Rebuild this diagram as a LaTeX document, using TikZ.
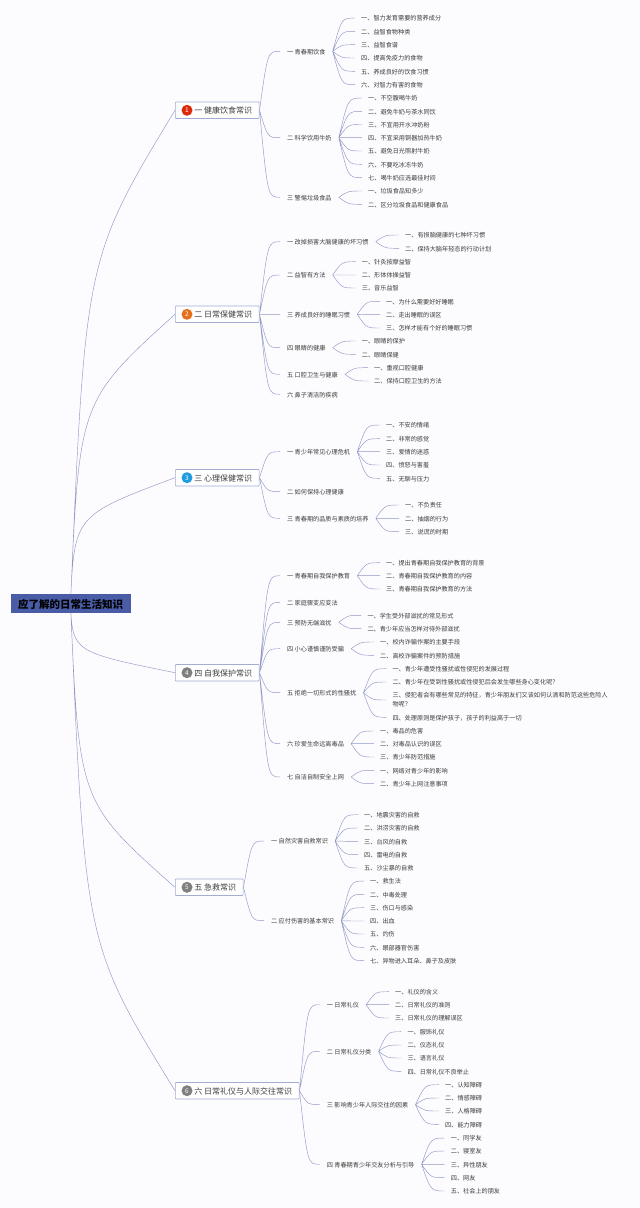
\documentclass[tikz,border=0pt]{standalone}
\usepackage{fontspec}
\setmainfont{Noto Sans CJK SC}
\usetikzlibrary{backgrounds,calc}
\usepackage{xcolor}
\definecolor{paper}{HTML}{FCFCFE}
\definecolor{rootblue}{HTML}{4A5CA6}
\definecolor{frameblue}{HTML}{A3ACD3}
\definecolor{wireblue}{HTML}{9298C6}
\definecolor{inkgray}{HTML}{3C3C3C}
\definecolor{badgered}{HTML}{DB2A0C}
\definecolor{badgeorange}{HTML}{E56F1A}
\definecolor{badgeblue}{HTML}{1F9BDF}
\definecolor{badgegray}{HTML}{7F7F7F}

\tikzset{
  rootbox/.style={fill=rootblue,text=black,inner xsep=7.5pt,minimum height=19pt,text height=11pt,text depth=1.6pt,font=\fontsize{10.5}{12}\selectfont\bfseries},
  branchbox/.style={draw=frameblue,line width=0.7pt,fill=white,rounded corners=0.8pt,text=inkgray,anchor=west,inner xsep=7pt,inner ysep=0pt,minimum height=16.5pt,text height=8pt,text depth=1pt,font=\fontsize{8}{10}\selectfont},
  badge/.style={circle,inner sep=0pt,minimum size=11pt,text=white,font=\fontsize{6.5}{7}\selectfont},
  topic/.style={text=inkgray,anchor=west,inner xsep=7pt,inner ysep=1pt,text height=6.3pt,text depth=0.72pt,font=\fontsize{6.15}{8}\selectfont},
  longleaf/.style={text=inkgray,anchor=west,inner xsep=6pt,inner ysep=1pt,align=left,font=\fontsize{6.15}{9}\selectfont},
  leaf/.style={longleaf,text height=6.3pt,text depth=0.72pt},
  bow/.style={wireblue,line width=0.45pt,to path={let \p1=(\tikztostart),\p2=(\tikztotarget) in .. controls ({\x1+0.4*(\x2-\x1)},\y2) .. (\tikztotarget)}},
  longbow/.style={wireblue,line width=0.45pt,to path={let \p1=(\tikztostart),\p2=(\tikztotarget) in .. controls ({\x1+0.03*abs(\y2-\y1)},{\y1+0.7*(\y2-\y1)}) .. (\tikztotarget)}}
}

\begin{document}
\begin{tikzpicture}[x=1pt,y=-1pt]
  \useasboundingbox (0,0) rectangle (640,1208);
  \begin{scope}[on background layer]
    \fill[paper] (0,0) rectangle (640,1208);
  \end{scope}

  % centre
  \node[rootbox] (root) at (70.5,603.5) {应了解的日常生活知识};

  % the six branches
  \node[branchbox] (one) at (175,110.3) {\hspace{12pt}一 健康饮食常识};
  \node[badge,fill=badgered] (num1) at (187,110.3) {1};
  \node[branchbox] (two) at (175,314.3) {\hspace{12pt}二 日常保健常识};
  \node[badge,fill=badgeorange] (num2) at (187,314.3) {2};
  \node[branchbox] (three) at (175,477.7) {\hspace{12pt}三 心理保健常识};
  \node[badge,fill=badgeblue] (num3) at (187,477.7) {3};
  \node[branchbox] (four) at (175,672.7) {\hspace{12pt}四 自我保护常识};
  \node[badge,fill=badgegray] (num4) at (187,672.7) {4};
  \node[branchbox] (five) at (175,887.3) {\hspace{12pt}五 急救常识};
  \node[badge,fill=badgegray] (num5) at (187,887.3) {5};
  \node[branchbox] (six) at (175,1090.7) {\hspace{12pt}六 日常礼仪与人际交往常识};
  \node[badge,fill=badgegray] (num6) at (187,1090.7) {6};

  \begin{scope}[on background layer]
    \draw[longbow] (root.center) to (one.west) (root.center) to (two.west) (root.center) to (three.west)
      (root.center) to (four.west) (root.center) to (five.west) (root.center) to (six.west);
  \end{scope}

  % branch one
  \node[topic] (a1) at (280,51.3) {一 青春期饮食};
  \node[leaf] (a1a) at (355,18) {一、智力发育需要的营养成分};
  \node[leaf] (a1b) at (355,31.3) {二、益智食物种类};
  \node[leaf] (a1c) at (355,44.7) {三、益智食谱};
  \node[leaf] (a1d) at (355,58) {四、提高免疫力的食物};
  \node[leaf] (a1e) at (355,71.3) {五、养成良好的饮食习惯};
  \node[leaf] (a1f) at (355,84.7) {六、对智力有害的食物};
  \node[topic] (a2) at (280,137.7) {二 科学饮用牛奶};
  \node[leaf] (a2a) at (362,98) {一、不空腹喝牛奶};
  \node[leaf] (a2b) at (362,111.3) {二、避免牛奶与茶水同饮};
  \node[leaf] (a2c) at (362,124.5) {三、不宜用开水冲奶粉};
  \node[leaf] (a2d) at (362,137.7) {四、不宜采用铜器加热牛奶};
  \node[leaf] (a2e) at (362,151) {五、避免日光照射牛奶};
  \node[leaf] (a2f) at (362,164.3) {六、不要吃冰冻牛奶};
  \node[leaf] (a2g) at (362,177.7) {七、喝牛奶应选最佳时间};
  \node[topic] (a3) at (280,197.3) {三 警惕垃圾食品};
  \node[leaf] (a3a) at (362,191) {一、垃圾食品知多少};
  \node[leaf] (a3b) at (362,204.3) {二、区分垃圾食品和健康食品};
  \draw[bow] (one.east) to (a1.west) (one.east) to (a2.west) (one.east) to (a3.west);
  \draw[bow] (a1.east) to (a1a.west) (a1.east) to (a1b.west) (a1.east) to (a1c.west)
    (a1.east) to (a1d.west) (a1.east) to (a1e.west) (a1.east) to (a1f.west);
  \draw[bow] (a2.east) to (a2a.west) (a2.east) to (a2b.west) (a2.east) to (a2c.west) (a2.east) to (a2d.west)
    (a2.east) to (a2e.west) (a2.east) to (a2f.west) (a2.east) to (a2g.west);
  \draw[bow] (a3.east) to (a3a.west) (a3.east) to (a3b.west);

  % branch two
  \node[topic] (b1) at (280,241.7) {一 改掉损害大脑健康的坏习惯};
  \node[leaf] (b1a) at (399,235) {一、有损脑健康的七种坏习惯};
  \node[leaf] (b1b) at (399,248.3) {二、保持大脑年轻态的行动计划};
  \node[topic] (b2) at (280,275) {二 益智有方法};
  \node[leaf] (b2a) at (355.7,261.7) {一、针灸按摩益智};
  \node[leaf] (b2b) at (355.7,275) {二、形体体操益智};
  \node[leaf] (b2c) at (355.7,288) {三、音乐益智};
  \node[topic] (b3) at (280,314.3) {三 养成良好的睡眠习惯};
  \node[leaf] (b3a) at (380,301.3) {一、为什么需要好好睡眠};
  \node[leaf] (b3b) at (380,314.7) {二、走出睡眠的误区};
  \node[leaf] (b3c) at (380,328) {三、怎样才能有个好的睡眠习惯};
  \node[topic] (b4) at (280,347.7) {四 眼睛的健康};
  \node[leaf] (b4a) at (355.7,341) {一、眼睛的保护};
  \node[leaf] (b4b) at (355.7,354.3) {二、眼睛保健};
  \node[topic] (b5) at (280,374.3) {五 口腔卫生与健康};
  \node[leaf] (b5a) at (368,367.7) {一、重视口腔健康};
  \node[leaf] (b5b) at (368,381) {二、保持口腔卫生的方法};
  \node[topic] (b6) at (280,394.3) {六 鼻子清洁防疾病};
  \draw[bow] (two.east) to (b1.west) (two.east) to (b2.west) (two.east) to (b3.west)
    (two.east) to (b4.west) (two.east) to (b5.west) (two.east) to (b6.west);
  \draw[bow] (b1.east) to (b1a.west) (b1.east) to (b1b.west);
  \draw[bow] (b2.east) to (b2a.west) (b2.east) to (b2b.west) (b2.east) to (b2c.west);
  \draw[bow] (b3.east) to (b3a.west) (b3.east) to (b3b.west) (b3.east) to (b3c.west);
  \draw[bow] (b4.east) to (b4a.west) (b4.east) to (b4b.west);
  \draw[bow] (b5.east) to (b5a.west) (b5.east) to (b5b.west);

  % branch three
  \node[topic] (c1) at (280,451.7) {一 青少年常见心理危机};
  \node[leaf] (c1a) at (380,425) {一、不安的情绪};
  \node[leaf] (c1b) at (380,438.7) {二、非常的感觉};
  \node[leaf] (c1c) at (380,451.7) {三、爱情的迷惑};
  \node[leaf] (c1d) at (380,465) {四、愤怒与害羞};
  \node[leaf] (c1e) at (380,478.3) {五、无聊与压力};
  \node[topic] (c2) at (280,491.7) {二 如何保持心理健康};
  \node[topic] (c3) at (280,518.3) {三 青春期的品质与素质的培养};
  \node[leaf] (c3a) at (399,505) {一、不负责任};
  \node[leaf] (c3b) at (399,518.3) {二、抽烟的行为};
  \node[leaf] (c3c) at (399,531.7) {三、说谎的时期};
  \draw[bow] (three.east) to (c1.west) (three.east) to (c2.west) (three.east) to (c3.west);
  \draw[bow] (c1.east) to (c1a.west) (c1.east) to (c1b.west) (c1.east) to (c1c.west)
    (c1.east) to (c1d.west) (c1.east) to (c1e.west);
  \draw[bow] (c3.east) to (c3a.west) (c3.east) to (c3b.west) (c3.east) to (c3c.west);

  % branch four
  \node[topic] (d1) at (280,575.7) {一 青春期自我保护教育};
  \node[leaf] (d1a) at (380,562.7) {一、提出青春期自我保护教育的背景};
  \node[leaf] (d1b) at (380,575.7) {二、青春期自我保护教育的内容};
  \node[leaf] (d1c) at (380,589) {三、青春期自我保护教育的方法};
  \node[topic] (d2) at (280,602.3) {二 家庭骤变应变法};
  \node[topic] (d3) at (280,622.3) {三 预防无端滋扰};
  \node[leaf] (d3a) at (361.3,615.3) {一、学生受外部滋扰的常见形式};
  \node[leaf] (d3b) at (361.3,628.7) {二、青少年应当怎样对待外部滋扰};
  \node[topic] (d4) at (280,648.7) {四 小心谨慎谨防受骗};
  \node[leaf] (d4a) at (374,642) {一、校内诈骗作案的主要手段};
  \node[leaf] (d4b) at (374,655.3) {二、高校诈骗案件的预防措施};
  \node[topic] (d5) at (280,692.7) {五 拒绝一切形式的性骚扰};
  \node[leaf] (d5a) at (386.3,668.7) {一、青少年遭受性骚扰或性侵犯的发展过程};
  \node[leaf] (d5b) at (386.3,682) {二、青少年在受到性骚扰或性侵犯后会发生哪些身心变化呢？};
  \node[longleaf] (d5c) at (386.3,700) {三、侵犯者会有哪些常见的特征，青少年朋友们又该如何认清和防范这些危险人\\物呢？};
  \node[leaf] (d5d) at (386.3,717.3) {四、处理原则是保护孩子，孩子的利益高于一切};
  \node[topic] (d6) at (280,743.7) {六 珍爱生命远离毒品};
  \node[leaf] (d6a) at (374,731) {一、毒品的危害};
  \node[leaf] (d6b) at (374,743.7) {二、对毒品认识的误区};
  \node[leaf] (d6c) at (374,757) {三、青少年防范措施};
  \node[topic] (d7) at (280,777) {七 自洁自制安全上网};
  \node[leaf] (d7a) at (374,770.3) {一、网络对青少年的影响};
  \node[leaf] (d7b) at (374,783.7) {二、青少年上网注意事项};
  \draw[bow] (four.east) to (d1.west) (four.east) to (d2.west) (four.east) to (d3.west) (four.east) to (d4.west)
    (four.east) to (d5.west) (four.east) to (d6.west) (four.east) to (d7.west);
  \draw[bow] (d1.east) to (d1a.west) (d1.east) to (d1b.west) (d1.east) to (d1c.west);
  \draw[bow] (d3.east) to (d3a.west) (d3.east) to (d3b.west);
  \draw[bow] (d4.east) to (d4a.west) (d4.east) to (d4b.west);
  \draw[bow] (d5.east) to (d5a.west) (d5.east) to (d5b.west) (d5.east) to (d5c.west) (d5.east) to (d5d.west);
  \draw[bow] (d6.east) to (d6a.west) (d6.east) to (d6b.west) (d6.east) to (d6c.west);
  \draw[bow] (d7.east) to (d7a.west) (d7.east) to (d7b.west);

  % branch five
  \node[topic] (e1) at (264,841) {一 自然灾害自救常识};
  \node[leaf] (e1a) at (358,814.7) {一、地震灾害的自救};
  \node[leaf] (e1b) at (358,828) {二、洪涝灾害的自救};
  \node[leaf] (e1c) at (358,841.3) {三、台风的自救};
  \node[leaf] (e1d) at (358,854.7) {四、雷电的自救};
  \node[leaf] (e1e) at (358,868) {五、沙尘暴的自救};
  \node[topic] (e2) at (264,920.7) {二 应付伤害的基本常识};
  \node[leaf] (e2a) at (364,881) {一、救生法};
  \node[leaf] (e2b) at (364,894.3) {二、中毒处理};
  \node[leaf] (e2c) at (364,907.7) {三、伤口与感染};
  \node[leaf] (e2d) at (364,921) {四、出血};
  \node[leaf] (e2e) at (364,934) {五、灼伤};
  \node[leaf] (e2f) at (364,947.3) {六、眼部器官伤害};
  \node[leaf] (e2g) at (364,960.7) {七、异物进入耳朵、鼻子及皮肤};
  \draw[bow] (five.east) to (e1.west) (five.east) to (e2.west);
  \draw[bow] (e1.east) to (e1a.west) (e1.east) to (e1b.west) (e1.east) to (e1c.west)
    (e1.east) to (e1d.west) (e1.east) to (e1e.west);
  \draw[bow] (e2.east) to (e2a.west) (e2.east) to (e2b.west) (e2.east) to (e2c.west) (e2.east) to (e2d.west)
    (e2.east) to (e2e.west) (e2.east) to (e2f.west) (e2.east) to (e2g.west);

  % branch six
  \node[topic] (f1) at (319.7,1004.7) {一 日常礼仪};
  \node[leaf] (f1a) at (389,991.7) {一、礼仪的含义};
  \node[leaf] (f1b) at (389,1004.7) {二、日常礼仪的准则};
  \node[leaf] (f1c) at (389,1018) {三、日常礼仪的理解误区};
  \node[topic] (f2) at (319.7,1051.3) {二 日常礼仪分类};
  \node[leaf] (f2a) at (401.3,1031.7) {一、服饰礼仪};
  \node[leaf] (f2b) at (401.3,1045) {二、仪态礼仪};
  \node[leaf] (f2c) at (401.3,1058) {三、语言礼仪};
  \node[leaf] (f2d) at (401.3,1071.3) {四、日常礼仪不良举止};
  \node[topic] (f3) at (319.7,1104.7) {三 影响青少年人际交往的因素};
  \node[leaf] (f3a) at (439,1084.7) {一、认知障碍};
  \node[leaf] (f3b) at (439,1098) {二、情感障碍};
  \node[leaf] (f3c) at (439,1111) {三、人格障碍};
  \node[leaf] (f3d) at (439,1124.3) {四、能力障碍};
  \node[topic] (f4) at (319.7,1164.3) {四 青春期青少年交友分析与引导};
  \node[leaf] (f4a) at (444.7,1138) {一、同学友};
  \node[leaf] (f4b) at (444.7,1151) {二、寝室友};
  \node[leaf] (f4c) at (444.7,1164.3) {三、异性朋友};
  \node[leaf] (f4d) at (444.7,1177.7) {四、网友};
  \node[leaf] (f4e) at (444.7,1191) {五、社会上的朋友};
  \draw[bow] (six.east) to (f1.west) (six.east) to (f2.west) (six.east) to (f3.west) (six.east) to (f4.west);
  \draw[bow] (f1.east) to (f1a.west) (f1.east) to (f1b.west) (f1.east) to (f1c.west);
  \draw[bow] (f2.east) to (f2a.west) (f2.east) to (f2b.west) (f2.east) to (f2c.west) (f2.east) to (f2d.west);
  \draw[bow] (f3.east) to (f3a.west) (f3.east) to (f3b.west) (f3.east) to (f3c.west) (f3.east) to (f3d.west);
  \draw[bow] (f4.east) to (f4a.west) (f4.east) to (f4b.west) (f4.east) to (f4c.west) (f4.east) to (f4d.west) (f4.east) to (f4e.west);
\end{tikzpicture}
\end{document}
